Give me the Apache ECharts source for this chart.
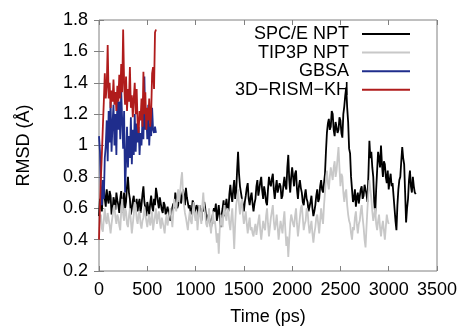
<!DOCTYPE html>
<html>
<head>
<meta charset="utf-8">
<title>RMSD vs time</title>
<script src="https://cdn.jsdelivr.net/npm/echarts@6/dist/echarts.min.js"></script>
<style>
  html, body { margin: 0; padding: 0; background: #fff; }
  #chart { width: 461px; height: 326px; }
</style>
</head>
<body>
<div id="chart"></div>
<script>
// 图例名称
var seriesNames = ['SPC/E NPT', 'TIP3P NPT', 'GBSA', '3D\u2212RISM\u2212KH'];
var seriesColors = ['#000000', '#c8c8c8', '#1f2d8c', '#b01c1c'];

// 采样间隔 (ps)
var spceStep = 10;
var tip3pStep = 10;
var gbsaStep = 10;
var rismStep = 10;

// SPC/E NPT，0 - 3280 ps
var spceValues = [
  0.55, 0.66, 0.62, 0.58, 0.70, 0.74, 0.66, 0.61, 0.72, 0.66, 0.63, 0.71, 0.68, 0.56, 0.58, 0.67, 0.64, 0.59, 0.70, 0.65,
  0.62, 0.57, 0.66, 0.71, 0.57, 0.63, 0.70, 0.60, 0.64, 0.74, 0.80, 0.70, 0.66, 0.56, 0.60, 0.65, 0.68, 0.59, 0.62, 0.66,
  0.58, 0.63, 0.66, 0.57, 0.62, 0.69, 0.74, 0.64, 0.60, 0.55, 0.64, 0.60, 0.56, 0.63, 0.68, 0.61, 0.58, 0.66, 0.62, 0.73,
  0.69, 0.64, 0.60, 0.67, 0.66, 0.59, 0.57, 0.64, 0.62, 0.56, 0.55, 0.61, 0.60, 0.54, 0.52, 0.58, 0.57, 0.63, 0.60, 0.70,
  0.66, 0.60, 0.62, 0.68, 0.70, 0.63, 0.64, 0.72, 0.68, 0.62, 0.73, 0.67, 0.66, 0.60, 0.62, 0.56, 0.58, 0.65, 0.63, 0.57,
  0.56, 0.62, 0.60, 0.55, 0.62, 0.57, 0.52, 0.60, 0.58, 0.64, 0.60, 0.54, 0.50, 0.56, 0.57, 0.52, 0.47, 0.53, 0.54, 0.60,
  0.58, 0.63, 0.52, 0.57, 0.62, 0.54, 0.48, 0.56, 0.60, 0.65, 0.55, 0.61, 0.66, 0.60, 0.58, 0.69, 0.75, 0.68, 0.64, 0.72,
  0.78, 0.66, 0.70, 0.84, 0.96, 0.82, 0.74, 0.70, 0.66, 0.62, 0.58, 0.64, 0.68, 0.73, 0.76, 0.66, 0.62, 0.67, 0.70, 0.63,
  0.58, 0.63, 0.66, 0.74, 0.78, 0.68, 0.72, 0.77, 0.80, 0.71, 0.66, 0.74, 0.70, 0.64, 0.62, 0.72, 0.80, 0.76, 0.74, 0.79,
  0.82, 0.72, 0.66, 0.73, 0.78, 0.70, 0.70, 0.76, 0.74, 0.66, 0.68, 0.75, 0.80, 0.74, 0.72, 0.86, 0.94, 0.78, 0.70, 0.80,
  0.86, 0.80, 0.74, 0.82, 0.84, 0.72, 0.66, 0.74, 0.78, 0.73, 0.70, 0.64, 0.62, 0.68, 0.72, 0.66, 0.64, 0.58, 0.58, 0.64,
  0.68, 0.60, 0.55, 0.58, 0.62, 0.68, 0.72, 0.64, 0.66, 0.74, 0.78, 0.72, 0.70, 0.76, 0.82, 0.96, 1.08, 1.14, 1.17, 1.10,
  1.12, 1.22, 1.20, 1.10, 1.06, 1.15, 1.14, 1.08, 1.10, 1.18, 1.16, 1.08, 1.05, 1.20, 1.25, 1.32, 1.37, 1.24, 1.15, 0.98,
  0.95, 0.80, 0.72, 0.64, 0.66, 0.72, 0.61, 0.67, 0.70, 0.63, 0.64, 0.72, 0.74, 0.66, 0.68, 0.75, 0.76, 0.69, 0.64, 0.82,
  1.03, 0.92, 0.96, 0.86, 0.80, 0.64, 0.56, 0.72, 0.84, 0.96, 0.92, 0.86, 1.00, 0.88, 0.80, 0.90, 0.88, 0.80, 0.76, 0.84,
  0.72, 0.78, 0.82, 0.74, 0.76, 0.68, 0.60, 0.52, 0.46, 0.62, 0.72, 0.78, 0.80, 0.90, 0.99, 0.92, 0.88, 0.70, 0.51, 0.60,
  0.66, 0.78, 0.84, 0.74, 0.70, 0.80, 0.74, 0.70, 0.69
];

// TIP3P NPT，0 - 3000 ps
var tip3pValues = [
  0.48, 0.54, 0.56, 0.47, 0.45, 0.53, 0.60, 0.52, 0.50, 0.57, 0.58, 0.49, 0.44, 0.50, 0.55, 0.60, 0.62, 0.54, 0.50, 0.56,
  0.54, 0.49, 0.46, 0.58, 0.66, 0.56, 0.52, 0.60, 0.58, 0.50, 0.48, 0.55, 0.60, 0.52, 0.44, 0.50, 0.56, 0.64, 0.62, 0.53,
  0.50, 0.56, 0.58, 0.50, 0.47, 0.52, 0.54, 0.61, 0.60, 0.52, 0.48, 0.53, 0.56, 0.49, 0.52, 0.58, 0.46, 0.51, 0.55, 0.60,
  0.50, 0.55, 0.58, 0.51, 0.47, 0.54, 0.53, 0.48, 0.44, 0.52, 0.56, 0.49, 0.50, 0.57, 0.60, 0.53, 0.48, 0.58, 0.66, 0.62,
  0.58, 0.66, 0.72, 0.64, 0.70, 0.78, 0.83, 0.70, 0.62, 0.57, 0.54, 0.50, 0.46, 0.53, 0.58, 0.52, 0.50, 0.58, 0.64, 0.56,
  0.52, 0.58, 0.46, 0.54, 0.62, 0.55, 0.50, 0.62, 0.70, 0.60, 0.56, 0.50, 0.48, 0.54, 0.60, 0.50, 0.44, 0.52, 0.58, 0.50,
  0.52, 0.46, 0.38, 0.44, 0.31, 0.46, 0.56, 0.50, 0.48, 0.57, 0.62, 0.55, 0.52, 0.60, 0.58, 0.50, 0.46, 0.54, 0.60, 0.48,
  0.34, 0.50, 0.62, 0.66, 0.72, 0.62, 0.56, 0.63, 0.66, 0.56, 0.50, 0.54, 0.58, 0.50, 0.44, 0.50, 0.54, 0.46, 0.48, 0.44,
  0.42, 0.47, 0.50, 0.43, 0.44, 0.52, 0.56, 0.46, 0.40, 0.46, 0.52, 0.48, 0.46, 0.55, 0.60, 0.50, 0.42, 0.48, 0.54, 0.58,
  0.62, 0.52, 0.46, 0.50, 0.56, 0.48, 0.40, 0.46, 0.52, 0.48, 0.44, 0.52, 0.58, 0.46, 0.36, 0.42, 0.29, 0.40, 0.50, 0.56,
  0.56, 0.50, 0.48, 0.55, 0.60, 0.50, 0.42, 0.48, 0.54, 0.60, 0.62, 0.54, 0.46, 0.50, 0.52, 0.60, 0.58, 0.50, 0.44, 0.48,
  0.52, 0.44, 0.38, 0.44, 0.48, 0.54, 0.56, 0.50, 0.44, 0.52, 0.60, 0.54, 0.50, 0.62, 0.70, 0.78, 0.84, 0.76, 0.72, 0.80,
  0.86, 0.82, 0.78, 0.86, 0.90, 0.80, 0.84, 0.92, 0.99, 0.86, 0.74, 0.82, 0.80, 0.70, 0.64, 0.70, 0.72, 0.62, 0.56, 0.52,
  0.50, 0.44, 0.40, 0.48, 0.46, 0.54, 0.58, 0.50, 0.44, 0.50, 0.52, 0.58, 0.62, 0.54, 0.48, 0.40, 0.35, 0.48, 0.60, 0.70,
  0.78, 0.72, 0.66, 0.58, 0.52, 0.56, 0.60, 0.50, 0.46, 0.52, 0.56, 0.48, 0.42, 0.48, 0.52, 0.46, 0.40, 0.48, 0.56, 0.52,
  0.50
];

// GBSA，0 - 590 ps
var gbsaValues = [
  1.06, 0.96, 0.70, 0.62, 0.78, 0.66, 0.92, 1.00, 1.16, 0.90,
  1.22, 1.02, 1.28, 0.96, 1.14, 1.26, 1.00, 1.20, 0.94, 1.30,
  1.10, 1.28, 1.04, 1.35, 1.16, 0.98, 1.22, 0.70, 0.90, 1.12,
  0.86, 1.06, 0.92, 1.18, 0.88, 1.10, 0.94, 1.20, 0.96, 1.14,
  1.02, 1.12, 0.94, 1.08, 1.00, 1.16, 1.04, 1.44, 1.10, 1.20,
  1.04, 1.26, 1.00, 1.14, 1.06, 1.24, 1.10, 1.08, 1.12, 1.08
];

// 3D-RISM-KH，0 - 590 ps
var rismValues = [
  0.40, 0.62, 0.80, 0.95, 1.12, 1.28, 1.46, 1.30, 1.38, 1.64,
  1.30, 1.40, 1.24, 1.35, 1.28, 1.42, 1.26, 1.34, 1.22, 1.38,
  1.28, 1.45, 1.30, 1.52, 1.34, 1.74, 1.40, 1.26, 1.44, 1.22,
  1.36, 1.28, 1.50, 1.24, 1.32, 1.18, 1.30, 1.40, 1.20, 1.36,
  1.14, 1.08, 1.22, 1.16, 1.30, 1.12, 1.47, 1.20, 1.34, 1.10,
  1.24, 1.16, 1.30, 1.12, 1.20, 1.46, 1.50, 1.36, 1.72, 1.74
];

// 坐标轴范围
var xMin = 0, xMax = 3500, xInterval = 500;
var yMin = 0.2, yMax = 1.8, yInterval = 0.2;

// 把数值数组与时间采样组合成 [t, v]
function toPairs(values, step) {
  var out = [];
  for (var i = 0; i < values.length; i++) {
    out.push([i * step, values[i]]);
  }
  return out;
}

var allData = [
  toPairs(spceValues, spceStep),
  toPairs(tip3pValues, tip3pStep),
  toPairs(gbsaValues, gbsaStep),
  toPairs(rismValues, rismStep)
];

var fontFamily = '"Liberation Sans", Arial, sans-serif';
var fontSize = 18;
var frameColor = '#808080';

function makeAxis(type, pos, show) {
  var isX = type === 'x';
  return {
    type: 'value',
    position: pos,
    min: isX ? xMin : yMin,
    max: isX ? xMax : yMax,
    interval: isX ? xInterval : yInterval,
    splitLine: { show: false },
    axisLine: { show: false },
    axisTick: { show: true, inside: true, length: 5, lineStyle: { color: frameColor, width: 1 } },
    axisLabel: {
      show: show,
      color: '#000',
      fontSize: fontSize,
      fontFamily: fontFamily,
      margin: isX ? 10 : 11,
      // 不要千位分隔符
      formatter: function (v) { return String(+v.toFixed(2)); }
    }
  };
}

var xBottom = makeAxis('x', 'bottom', true);
xBottom.name = 'Time (ps)';
xBottom.nameLocation = 'middle';
xBottom.nameGap = 37;
xBottom.nameTextStyle = { color: '#000', fontSize: fontSize, fontFamily: fontFamily };

var yLeft = makeAxis('y', 'left', true);
yLeft.name = 'RMSD (\u00c5)';
yLeft.nameLocation = 'middle';
yLeft.nameGap = 66;
yLeft.nameTextStyle = { color: '#000', fontSize: fontSize, fontFamily: fontFamily };

var chart = echarts.init(document.getElementById('chart'));
chart.setOption({
  animation: false,
  backgroundColor: '#fff',
  grid: {
    left: 99, right: 24, top: 20, bottom: 55,
    outerBoundsMode: 'none',
    containLabel: false,
    show: true, borderColor: frameColor, borderWidth: 1, backgroundColor: 'transparent'
  },
  xAxis: [xBottom, makeAxis('x', 'top', false)],
  yAxis: [yLeft, makeAxis('y', 'right', false)],
  legend: {
    orient: 'vertical',
    align: 'right',
    right: 46,
    top: 20,
    icon: 'rect',
    itemWidth: 48,
    itemHeight: 2,
    itemGap: 0.6,
    selectedMode: false,
    textStyle: {
      color: '#000',
      fontSize: fontSize,
      fontFamily: fontFamily,
      lineHeight: 18,
      padding: [0, 8, 0, 0]
    },
    data: seriesNames
  },
  series: seriesNames.map(function (name, i) {
    return {
      name: name,
      type: 'line',
      data: allData[i],
      symbol: 'none',
      color: seriesColors[i],
      lineStyle: { width: 1.8, color: seriesColors[i] },
      z: 2 + i
    };
  })
});
</script>
</body>
</html>
